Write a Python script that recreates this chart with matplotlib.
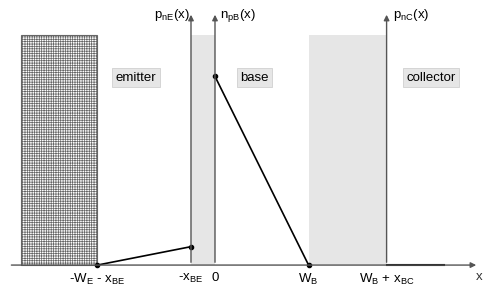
import matplotlib.pyplot as plt
from matplotlib.patches import Rectangle

plt.rcParams['font.family'] = ['Liberation Sans', 'DejaVu Sans']
plt.rcParams['mathtext.default'] = 'regular'
plt.rcParams['hatch.color'] = '#444444'
plt.rcParams['hatch.linewidth'] = 0.5

# positions (x_BE = 1 unit)
x_BE = 1.0
W_E = 3.9
W_B = 3.9
x_BC = 3.25
emitter_left = -8.1

# minority carrier concentrations (relative)
pnE_x = [-W_E - x_BE, -x_BE]
pnE_y = [0.0, 0.08]
npB_x = [0.0, W_B]
npB_y = [0.82, 0.0]
pnC_x = [W_B + x_BC, W_B + x_BC + 2.4]
pnC_y = [0.0, 0.0]

tick_pos = [-W_E - x_BE, -x_BE, 0, W_B, W_B + x_BC]
tick_lab = ['-W$_E$ - x$_{BE}$', '-x$_{BE}$', '0', 'W$_B$', 'W$_B$ + x$_{BC}$']

fig = plt.figure(figsize=(4.83, 2.89), dpi=100)
ax = fig.add_axes([0, 0, 1, 1])
ax.set_xlim(-8.958, 11.167)
ax.set_ylim(-0.104, 1.152)
ax.axis('off')

gray = '#e6e6e6'
axc = '#555555'

# emitter contact (hatched)
ax.add_patch(Rectangle((emitter_left, 0), -W_E - x_BE - emitter_left, 1.0,
                       facecolor='white', edgecolor='#666666', hatch='+++++++', lw=0.8))
# space charge regions
ax.add_patch(Rectangle((-x_BE, 0), x_BE, 1.0, facecolor=gray, edgecolor='none'))
ax.add_patch(Rectangle((W_B, 0), x_BC, 1.0, facecolor=gray, edgecolor='none'))

# x axis
ax.annotate('', xy=(11.0, 0), xytext=(-8.6, 0),
            arrowprops=dict(arrowstyle='-|>', color=axc, lw=1.0, mutation_scale=8))
ax.text(10.85, -0.025, 'x', fontsize=9.5, ha='left', va='top', color='#333333')

# vertical axes
for xv in [-x_BE, 0, W_B + x_BC]:
    ax.annotate('', xy=(xv, 1.1), xytext=(xv, 0),
                arrowprops=dict(arrowstyle='-|>', color=axc, lw=1.0, mutation_scale=8))
ax.text(-x_BE - 0.05, 1.085, 'p$_{nE}$(x)', fontsize=9.5, ha='right', va='center')
ax.text(0.2, 1.085, 'n$_{pB}$(x)', fontsize=9.5, ha='left', va='center')
ax.text(W_B + x_BC + 0.25, 1.085, 'p$_{nC}$(x)', fontsize=9.5, ha='left', va='center')

# carrier profiles
ax.plot(pnE_x, pnE_y, color='black', lw=1.2, marker='o', ms=3)
ax.plot(npB_x, npB_y, color='black', lw=1.2, marker='o', ms=3)
ax.plot(pnC_x, pnC_y, color='black', lw=1.5)

# region labels
box = dict(boxstyle='square,pad=0.25', facecolor='#e6e6e6', edgecolor='#d0d0d0', lw=0.6)
ax.text(-3.29, 0.815, 'emitter', fontsize=9.5, ha='center', va='center', bbox=box)
ax.text(1.63, 0.815, 'base', fontsize=9.5, ha='center', va='center', bbox=box)
ax.text(9.0, 0.815, 'collector', fontsize=9.5, ha='center', va='center', bbox=box)

# tick labels
for p, lab in zip(tick_pos, tick_lab):
    ax.text(p, -0.03, lab, fontsize=9.5, ha='center', va='top')

fig.savefig('out.png', dpi=100)
